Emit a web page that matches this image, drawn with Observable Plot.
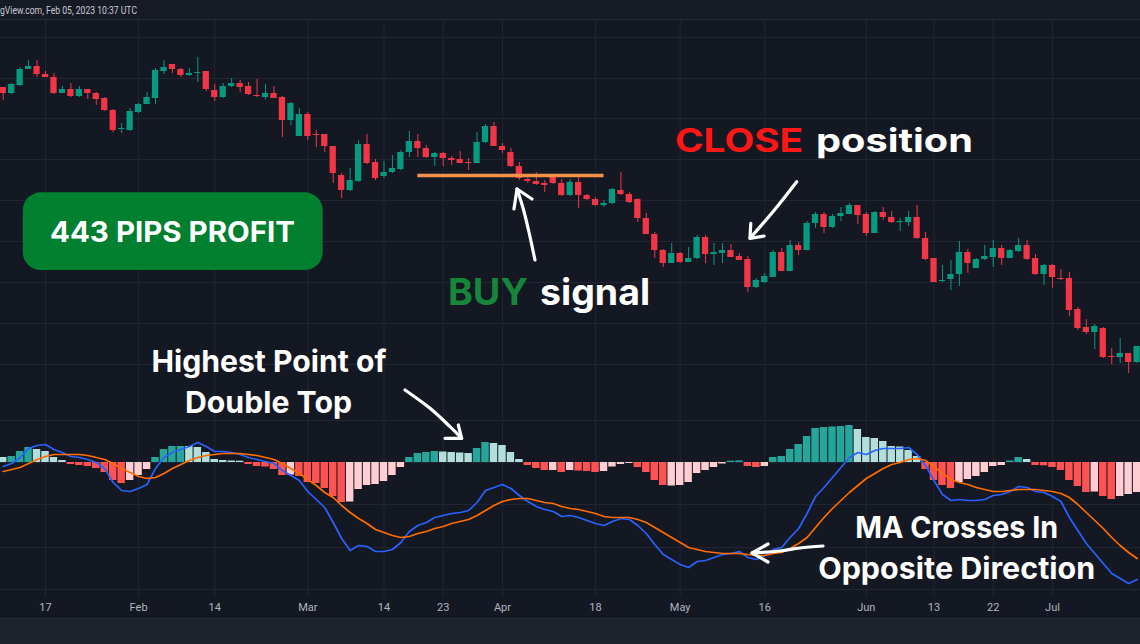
<!DOCTYPE html>
<html>
<head>
<meta charset="utf-8">
<script src="https://cdn.jsdelivr.net/npm/d3@7"></script>
<script src="https://cdn.jsdelivr.net/npm/@observablehq/plot@0.6"></script>
<style>
  html, body { margin: 0; padding: 0; background: #141823; overflow: hidden; }
  #wrap { position: relative; width: 1140px; height: 644px; overflow: hidden; background: #141823; }
  #header { position: absolute; left: 0; top: 0; width: 1140px; height: 19px; background: #161a25; border-bottom: 1px solid #262a36; }
  #footer { position: absolute; left: 0; top: 618px; width: 1140px; height: 26px; background: #1e222d; border-top: 1px solid #262a36; }
  .pane { position: absolute; left: 0; }
</style>
</head>
<body>
<div id="wrap">
  <div id="header"></div>
  <div id="footer"></div>
</div>
<script>
// ---------- DATA (price and MACD in relative units) ----------
const open = [313,307,315,331,334,326,323,307,311,304, 311,307,302,290,271,270,288,296,302,329,
  336,331,325,327,329,310,303,314,317,314, 305,303,307,303,280,264,286,266,266,254,
  225,210,219,256,238,224,228,231,248,259, 252,243,247,242,241,238,237,258,274,254,
  248,234,221,219,217,223,217,205,218,205, 201,195,197,210,206,201,182,166,150,137,
  147,138,142,163,146,147,150,144,141,113, 118,123,148,129,155,150,177,186,173,184,
  186,195,186,167,188,183,178,178,183,162, 142,119,121,126,148,132,141,143,152,142,
  149,155,142,126,135,122,122,91,73,68, 72,44,43,47,38];
const high = [313,317,333,340,340,329,327,314,317,314, 311,308,303,291,277,292,297,308,332,340,
  336,332,332,343,329,316,317,322,320,318, 321,316,314,304,298,292,288,270,266,254,
  227,232,260,266,241,239,245,250,269,266, 255,248,248,244,249,242,268,276,278,257,
  252,238,224,228,220,225,221,221,223,206, 203,200,212,228,208,202,187,168,151,157,
  148,153,165,165,157,157,156,147,144,122, 127,150,152,160,158,179,188,188,186,193,
  197,195,188,189,193,189,182,189,195,168, 142,135,140,159,151,142,155,160,155,151,
  162,160,146,136,136,131,128,93,81,76, 73,52,62,47,54];
const low = [300,306,314,331,323,323,306,307,303,303, 301,295,289,268,267,269,287,296,296,326,
  327,323,324,318,309,299,302,313,308,305, 303,301,302,263,275,264,260,253,248,217,
  202,209,218,236,220,222,227,230,243,243, 242,234,234,235,237,230,237,257,254,247,
  233,220,217,215,208,216,204,204,192,200, 194,193,196,205,197,178,166,142,133,137,
  137,138,141,137,135,137,143,140,108,112, 117,123,129,129,145,150,172,167,172,179,
  186,176,164,167,180,177,169,174,161,140, 118,118,110,114,127,132,140,133,135,142,
  148,140,125,115,112,120,84,70,66,51, 42,36,37,27,37];
const close = [307,316,331,334,326,323,307,311,304,311, 307,301,290,270,272,289,296,303,330,333,
  331,325,327,328,311,303,314,317,313,306, 304,307,302,280,297,286,264,265,254,227,
  210,220,256,237,222,228,232,248,259,252, 243,247,242,240,237,237,258,274,254,250,
  234,222,219,216,215,217,205,218,205,201, 195,197,211,206,198,182,166,150,137,147,
  138,142,163,146,148,150,143,140,113,120, 124,148,129,155,150,177,186,173,184,187,
  195,185,167,188,183,178,179,183,162,141, 118,120,126,148,137,141,144,152,142,150,
  155,141,126,135,123,121,90,72,68,74, 43,43,47,38,54];

const histValue = [5,6,11,15,13,11,5,2,-2,-3,-4,-6,-10,-18,-21,-18,-13,-7,5,13,16,16,16,15,10,3,2,1.5,1.3,
  -2,-4,-4.5,-7,-13,-12.5,-14,-20,-21,-26,-34,-40,-39.5,-27,-23,-22,
  -19,-13,-5,5,9,10,11,10.5,10,9.5,9,14,20,19,17,10,3,-3,-6,-8,-8,-10,-8,-8.5,-9,-10,-9,-4.5,-2,-1,
  -5,-10,-18,-23,-23.5,-23,-20,-11,-8,-5,-1.5,1.3,1.6,-4,-5,
  -4,5,6,13,18,26,34,35,35.5,36,37,33,25,24,21,16,15.5,12,6,-7,-18,-23,-26,-20,-17,-14,-10,-4,-3,
  1.5,5,3,-3,-3.3,-5,-8,-18,-24,-30,-29.5,-34,-37,-34,-32,-30];
// G = rising above zero, g = falling above zero, R = falling below zero, r = rising below zero
const histKind = ("gGGGggggRRRRRRRrrrGGGGgggggggRRRRRrRRRRRRrrrr" +
  "rrrGGGGggggGGggggRRRrRrRRRrrrrRRRRrrrrrrrGGRR" +
  "rGGGGGGGGGGggggggggRRRRrrrrrrGGgRRRRRRRrRRrrr").split("");
const macdLine = [-4,-1,5,14,17,18,13,10,6,5,3,0,-6,-20,-28,-29,-26,-22,-6,5,10,13,16,20,16,11,11,10,8,5,
  3,1,-1,-8,-13,-18,-29,-37,-45,-60,-76,-88,-83,-84,-89,
  -89,-87,-80,-69,-63,-60,-55,-53,-51,-50,-48,-40,-28,-25,-22,-26,-33,-39,-44,-47,
  -49,-54,-53,-55,-58,-61,-63,-59,-56,-57,-63,-71,-82,-92,-97,-102,-105,-99,-98,-95,-92,-91,-89,-95,-97,
  -93,-87,-85,-75,-66,-51,-34,-25,-15,-5,5,10,8,12,14,14,14,15,8,-3,
  -18,-32,-38,-37,-38,-38,-37,-33,-32,-29,-24,-25,-29,-30,-34,-39,-55,-68,-81,-91,-101,-111,-116,-121,-117];
const signalLine = [-9,-7,-5,-1,3,6,8,8,8,8,7,5,3,-1,-6,-10,-14,-16,-15,-11,-6,-2,2,5,7,8,9,9,9,8,
  7,5,3,-1,-6,-11,-17,-23,-30,-35,-43,-50,-56,-61,-67,
  -70,-73,-75,-74,-71,-69,-66,-64,-61,-59,-57,-53,-48,-43,-39,-37,-36,-36,-38,-40,
  -41,-44,-46,-47,-49,-51,-54,-55,-55,-55,-57,-60,-65,-70,-75,-80,-85,-87,-89,-90,-91,-91,-91,-92,-93,
  -93,-91,-90,-86,-81,-75,-65,-55,-46,-38,-30,-23,-16,-11,-6,-2,0,3,4,2,
  -4,-11,-17,-20,-22,-25,-27,-29,-29,-28,-27,-27,-27,-28,-29,-31,-35,-42,-50,-58,-66,-75,-83,-90,-96];

const tickIdx = [6,17,26,37,46,53,60,71,81,91,103,111,118,125];
const tickLabel = ["17","Feb","14","Mar","14","23","Apr","18","May","16","Jun","13","22","Jul"];
const priceGrid = [363,322,282,241,200,159,118,77,36];
const macdGrid = [42,0,-42,-85,-127];
const buyLine = [{level: 225, from: 50, to: 72}];

// ---------- build rows ----------
const UP = "#089981", DOWN = "#f23645", GRID = "#222633";
const HIST = {G: "#26a69a", g: "#b2dfdb", R: "#ff5252", r: "#ffcdd2"};
const candles = open.map((o, i) => ({n: i + 1, open: o, high: high[i], low: low[i], close: close[i]}));
const hist = histValue.map((v, i) => ({n: i + 1, v, kind: histKind[i]}));
const macdRows = macdLine.map((v, i) => ({n: i + 1, macd: v, signal: signalLine[i]}));
const labelOf = new Map(tickIdx.map((t, i) => [t, tickLabel[i]]));
const xDomain = [0.682, 135.4];

const wrap = document.getElementById("wrap");

const pricePlot = Plot.plot({
  width: 1140, height: 372, margin: 0,
  x: {domain: xDomain, axis: null},
  y: {domain: [8, 380], axis: null},
  color: {type: "identity"},
  style: {background: "transparent"},
  marks: [
    Plot.ruleY(priceGrid, {stroke: GRID}),
    Plot.ruleX(tickIdx, {stroke: GRID}),
    Plot.ruleX(candles, {x: "n", y1: "low", y2: "high", stroke: d => d.close >= d.open ? UP : DOWN, strokeWidth: 1}),
    Plot.rect(candles, {x1: d => d.n - 0.37, x2: d => d.n + 0.37, y1: "open", y2: "close",
      fill: d => d.close >= d.open ? UP : DOWN}),
    Plot.ruleY(buyLine, {y: "level", x1: "from", x2: "to", stroke: "#f7904a", strokeWidth: 3.5})
  ]
});
pricePlot.classList.add("pane");
pricePlot.style.top = "20px";
wrap.appendChild(pricePlot);

const macdPlot = Plot.plot({
  width: 1140, height: 226, marginTop: 0, marginBottom: 21, marginLeft: 0, marginRight: 0,
  x: {domain: xDomain},
  y: {domain: [-135, 70], axis: null},
  color: {type: "identity"},
  style: {background: "transparent", fontFamily: "Roboto, 'DejaVu Sans', sans-serif"},
  marks: [
    Plot.ruleY(macdGrid, {stroke: GRID}),
    Plot.ruleX(tickIdx, {stroke: GRID}),
    Plot.rect(hist, {x1: d => d.n - 0.44, x2: d => d.n + 0.44, y1: () => 0, y2: "v", fill: d => HIST[d.kind]}),
    Plot.line(macdRows, {x: "n", y: "macd", stroke: "#2962ff", strokeWidth: 1.7}),
    Plot.line(macdRows, {x: "n", y: "signal", stroke: "#ff6d00", strokeWidth: 1.7}),
    Plot.axisX(tickIdx, {tickSize: 0, tickPadding: 6, tickFormat: d => labelOf.get(d), fontSize: 11, fill: "#b2b5be", label: null})
  ]
});
macdPlot.classList.add("pane");
macdPlot.style.top = "392px";
wrap.appendChild(macdPlot);

// ---------- annotations, placed in data coordinates through the plots' scales ----------
const sx = pricePlot.scale("x");
const spy = pricePlot.scale("y");
const smy = macdPlot.scale("y");
const X = n => sx.apply(n);
const YP = p => 20 + spy.apply(p);
const YM = m => 392 + smy.apply(m);

const overlay = d3.create("svg").attr("width", 1140).attr("height", 644)
  .style("position", "absolute").style("left", "0px").style("top", "0px");

// header text, as much of it as the screenshot shows
overlay.append("text").attr("x", 0).attr("y", 14).attr("text-anchor", "start")
  .attr("font-family", "Roboto, 'DejaVu Sans', sans-serif").attr("font-size", 10.5).attr("fill", "#c8cbd3")
  .attr("textLength", 137).attr("lengthAdjust", "spacingAndGlyphs")
  .text("gView.com, Feb 05, 2023 10:37 UTC");

// profit box
const box = {n1: 3.37, n2: 38.82, p1: 207.7, p2: 130};
overlay.append("rect").attr("x", X(box.n1)).attr("y", YP(box.p1))
  .attr("width", X(box.n2) - X(box.n1)).attr("height", YP(box.p2) - YP(box.p1))
  .attr("rx", 18).attr("fill", "#01802f");

const notes = [
  {pane: "p", n: 21.07, v: 158, text: "443 PIPS PROFIT", size: 28.5, color: "#ffffff", len: 245, anchor: "middle"},
  {pane: "p", n: 53.62, v: 95, text: "BUY", size: 37, color: "#17863a", len: 80, anchor: "start"},
  {pane: "p", n: 64.5, v: 95, text: "signal", size: 37, color: "#ffffff", len: 110, anchor: "start"},
  {pane: "p", n: 80.45, v: 248, text: "CLOSE", size: 32.5, color: "#ff1717", len: 128, anchor: "start"},
  {pane: "p", n: 97.11, v: 248, text: "position", size: 32.5, color: "#ffffff", len: 157, anchor: "start"},
  {pane: "p", n: 32.47, v: 28, text: "Highest Point of", size: 30, color: "#ffffff", len: 235, anchor: "middle"},
  {pane: "p", n: 32.41, v: -13, text: "Double Top", size: 30, color: "#ffffff", len: 167, anchor: "middle"},
  {pane: "m", n: 113.74, v: -76, text: "MA Crosses In", size: 30, color: "#ffffff", len: 203, anchor: "middle"},
  {pane: "m", n: 113.74, v: -117, text: "Opposite Direction", size: 30, color: "#ffffff", len: 277, anchor: "middle"}
];
for (const t of notes) {
  overlay.append("text")
    .attr("x", X(t.n)).attr("y", t.pane === "p" ? YP(t.v) : YM(t.v))
    .attr("text-anchor", t.anchor)
    .attr("font-family", "Inter, 'Open Sans', 'Noto Sans', sans-serif")
    .attr("font-weight", 700).attr("font-size", t.size).attr("fill", t.color)
    .attr("textLength", t.len).attr("lengthAdjust", "spacingAndGlyphs")
    .text(t.text);
}

const arrows = [
  {pane: "p", shaft: [[63.9,140],[63.19,168],[62.49,192],[61.78,211]], head: [[61.42,191],[61.78,211],[63.55,201]]},
  {pane: "p", shaft: [[94.83,218.3],[92.15,189.5],[89.31,161.7]], head: [[89.4,176.7],[89.31,161.7],[90.97,164]]},
  {pane: "m", shaft: [[48.54,72],[51.5,53.7],[53.86,35.3],[55.24,23.7]], head: [[53.27,23.7],[55.24,23.7],[54.84,37]]},
  {pane: "m", shaft: [[97.94,-84],[95.22,-86],[92.86,-89],[89.55,-91]], head: [[91.44,-82],[89.55,-91],[91.44,-100]]}
];
for (const a of arrows) {
  const Y = a.pane === "p" ? YP : YM;
  const line = d3.line().x(d => X(d[0])).y(d => Y(d[1]));
  overlay.append("path").attr("d", line.curve(d3.curveCatmullRom)(a.shaft))
    .attr("fill", "none").attr("stroke", "#ffffff").attr("stroke-width", 3.2).attr("stroke-linecap", "round");
  overlay.append("path").attr("d", line.curve(d3.curveLinear)(a.head))
    .attr("fill", "none").attr("stroke", "#ffffff").attr("stroke-width", 3.2)
    .attr("stroke-linecap", "round").attr("stroke-linejoin", "round");
}
wrap.appendChild(overlay.node());
</script>
</body>
</html>
